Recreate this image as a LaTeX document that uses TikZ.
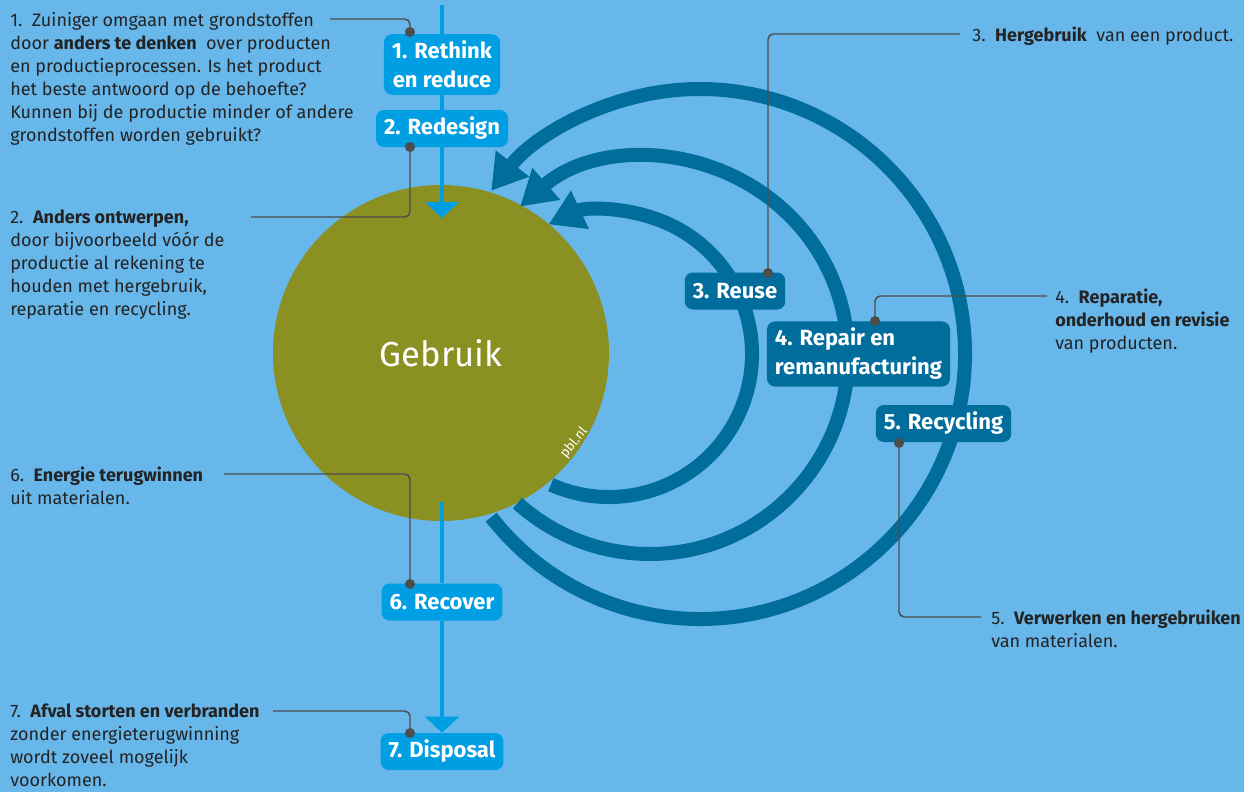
\documentclass[tikz,border=0pt]{standalone}
\usepackage{fontspec}
\setmainfont{Fira Sans}
\usetikzlibrary{arrows.meta}

\definecolor{skyblue}{HTML}{67B7EA}
\definecolor{usegreen}{HTML}{8B9022}
\definecolor{loopblue}{HTML}{006D9C}
\definecolor{flowblue}{HTML}{009FE3}
\definecolor{leadgray}{HTML}{4D4D4D}
\definecolor{notegray}{HTML}{232323}

\newcommand{\notefont}{\fontsize{13.5}{17.25}\selectfont}
\newcommand{\boxfont}{\fontsize{16.5}{21.75}\selectfont\bfseries}

\tikzset{
  labelbox/.style={rounded corners=6pt, fill=flowblue, text=white, font=\boxfont,
    align=center, inner xsep=6pt, inner ysep=5pt, minimum height=27.75pt},
  darklabel/.style={labelbox, fill=loopblue},
  note/.style={anchor=north west, align=left, inner sep=0pt, text=notegray, font=\notefont},
  leaderline/.style={draw=leadgray, line width=1.1pt, rounded corners=4pt},
  leaderdot/.style={circle, fill=leadgray, inner sep=0pt, minimum size=7.5pt},
  ringarc/.style={draw=loopblue, line width=10.5pt, -{Triangle[width=30pt,length=26pt]}},
  flowline/.style={draw=flowblue, line width=3pt}
}

\begin{document}
\begin{tikzpicture}[x=0.75pt,y=-0.75pt]
\useasboundingbox (0,0) rectangle (1244,792);
\fill[skyblue] (0,0) rectangle (1244,792);

% gebruik
\node[circle, fill=usegreen, minimum size=252pt, inner sep=0pt, text=white,
  font=\fontsize{26}{30}\selectfont] (gebruik) at (441,353) {Gebruik};
\node[rotate=51, text=white, font=\fontsize{10}{12}\selectfont, inner sep=0pt] (pbl) at (574,443) {pbl.nl};

% kringlopen
\coordinate (reusec) at (609,354);
\coordinate (repairc) at (650,356);
\coordinate (recyclec) at (700,354);
\draw[ringarc] (reusec) ++(114:143) arc[start angle=114, end angle=-115, radius=143];
\draw[ringarc] (repairc) ++(132:198) arc[start angle=132, end angle=-131, radius=198];
\draw[ringarc] (recyclec) ++(142:265) arc[start angle=142, end angle=-142, radius=265];

% boxes
\node[labelbox] (rethink) at (442,64.5) {1. Rethink\\en reduce};
\node[labelbox] (redesign) at (442,128.5) {2. Redesign};
\node[darklabel] (reuse) at (735,291) {3. Reuse};
\node[darklabel, align=left] (repair) at (858.5,354) {4. Repair en\\remanufacturing};
\node[darklabel] (recycling) at (943.5,423.5) {5. Recycling};
\node[labelbox] (recover) at (442,602) {6. Recover};
\node[labelbox] (disposal) at (442,751.5) {7. Disposal};

% doorstroom
\coordinate (intop) at (442,5);
\coordinate (intip) at (442,218);
\coordinate (outstart) at (442,502);
\draw[flowline] (intop) -- (rethink);
\draw[flowline] (rethink) -- (redesign);
\draw[flowline, -{Triangle[width=25pt,length=12pt]}] (redesign) -- (intip);
\draw[flowline] (outstart) -- (recover);
\draw[flowline, -{Triangle[width=25pt,length=12pt]}] (recover) -- (disposal);

% toelichting
\node[note] (t1) at (10,12) {1.\ \ Zuiniger omgaan met grondstoffen\\
  door \textbf{anders te denken}\ \ over producten\\
  en productieprocessen. Is het product\\
  het beste antwoord op de behoefte?\\
  Kunnen bij de productie minder of andere\\
  grondstoffen worden gebruikt?};
\node[note] (t2) at (10,210) {2.\ \ \textbf{Anders ontwerpen,}\\
  door bijvoorbeeld vóór de\\
  productie al rekening te\\
  houden met hergebruik,\\
  reparatie en recycling.};
\node[note] (t3) at (972,27) {3.\ \ \textbf{Hergebruik}\ \ van een product.};
\node[note] (t4) at (1055,289) {4.\ \ \textbf{Reparatie,}\\
  \textbf{onderhoud en revisie}\\
  van producten.};
\node[note] (t5) at (991,610) {5.\ \ \textbf{Verwerken en hergebruiken}\\
  van materialen.};
\node[note] (t6) at (10,467) {6.\ \ \textbf{Energie terugwinnen}\\
  uit materialen.};
\node[note] (t7) at (10,704) {7.\ \ \textbf{Afval storten en verbranden}\\
  zonder energieterugwinning\\
  wordt zoveel mogelijk\\
  voorkomen.};

% verwijslijnen
\node[leaderdot] (d1) at (410,32) {};
\node[leaderdot] (d2) at (410,147) {};
\node[leaderdot] (d3) at (768,273) {};
\node[leaderdot] (d4) at (875,321) {};
\node[leaderdot] (d5) at (899,443) {};
\node[leaderdot] (d6) at (410,584) {};
\node[leaderdot] (d7) at (410,733) {};
\coordinate (e1) at (330,19);
\coordinate (e2) at (251,217);
\coordinate (e3) at (960,34);
\coordinate (e4) at (1047,296);
\coordinate (e5) at (981,617);
\coordinate (e6) at (224,474);
\coordinate (e7) at (273,711);
\draw[leaderline] (d1.center) |- (e1);
\draw[leaderline] (d2.center) |- (e2);
\draw[leaderline] (d3.center) |- (e3);
\draw[leaderline] (d4.center) |- (e4);
\draw[leaderline] (d5.center) |- (e5);
\draw[leaderline] (d6.center) |- (e6);
\draw[leaderline] (d7.center) |- (e7);
\end{tikzpicture}
\end{document}
